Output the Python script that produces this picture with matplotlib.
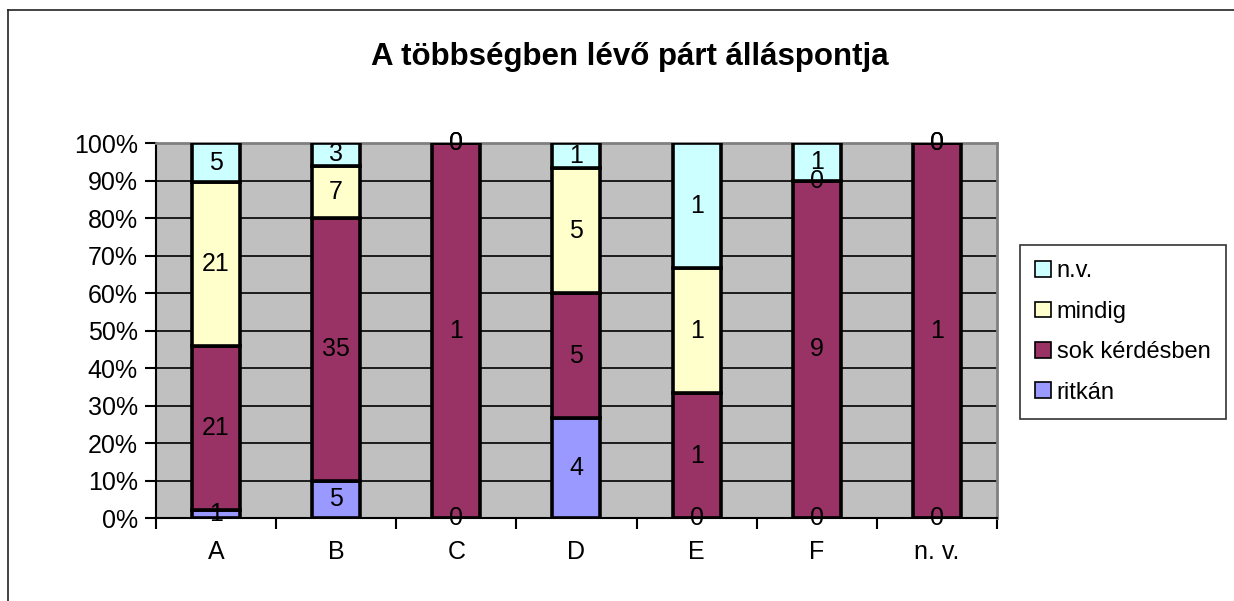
import numpy as np
import matplotlib
matplotlib.use("Agg")
import matplotlib.pyplot as plt
from matplotlib.lines import Line2D

plt.rcParams["font.family"] = ["Liberation Sans", "DejaVu Sans"]

# -------------------------------
# Data (counts per category)
# -------------------------------
categories = ["A", "B", "C", "D", "E", "F", "n. v."]
series_names = ["ritkán", "sok kérdésben", "mindig", "n.v."]
ritkan = [1, 5, 0, 4, 0, 0, 0]
sok_kerdesben = [21, 35, 1, 5, 1, 9, 1]
mindig = [21, 7, 0, 5, 1, 0, 0]
nv = [5, 3, 0, 1, 1, 1, 0]
colors = ["#9999FF", "#993366", "#FFFFCC", "#CCFFFF"]

title = "A többségben lévő párt álláspontja"

series = [ritkan, sok_kerdesben, mindig, nv]
counts = np.array(series, dtype=float)
totals = counts.sum(axis=0)
shares = counts / totals * 100

fig = plt.figure(figsize=(12.34, 6.01), dpi=100)
ax = fig.add_axes([0.1264, 0.138, 0.6815, 0.624])
ax.set_facecolor("#C0C0C0")

x = np.arange(len(categories))
bottom = np.zeros(len(categories))
handles = []
for name, vals, pct, col in zip(series_names, series, shares, colors):
    bars = ax.bar(x, pct, width=0.4, bottom=bottom, color=col,
                  edgecolor="black", linewidth=2.6, label=name, zorder=3)
    handles.append(bars)
    for xi, v, p, b in zip(x, vals, pct, bottom):
        ax.text(xi, b + p / 2, f"{v}", ha="center", va="center",
                fontsize=18, color="black", zorder=5)
    bottom += pct

ax.set_xlim(-0.5, len(categories) - 0.5)
ax.set_ylim(0, 100)
ax.set_yticks(np.arange(0, 101, 10))
ax.set_yticklabels([f"{t}%" for t in range(0, 101, 10)], fontsize=18)
ax.yaxis.grid(True, color="black", linewidth=1.2, zorder=1)
ax.set_axisbelow(True)

# category labels centred, tick marks between categories
ax.set_xticks(x)
ax.set_xticklabels(categories, fontsize=18)
ax.tick_params(axis="x", length=0, pad=16)
ax.set_xticks(np.arange(-0.5, len(categories)), minor=True)
ax.tick_params(axis="x", which="minor", length=8, width=1.5, direction="out")
ax.tick_params(axis="y", length=8, width=1.5, direction="out", pad=5)

for side in ["top", "right"]:
    ax.spines[side].set_color("#808080")
    ax.spines[side].set_linewidth(2)
for side in ["left", "bottom"]:
    ax.spines[side].set_color("black")
    ax.spines[side].set_linewidth(1.5)

fig.text(0.51, 0.905, title, ha="center", va="center",
         fontsize=22.5, fontweight="bold")

leg = fig.legend(handles[::-1], series_names[::-1], loc="center left",
                 bbox_to_anchor=(0.8266, 0.4476), fontsize=17,
                 frameon=True, fancybox=False, edgecolor="black",
                 labelspacing=0.78, handlelength=0.65, handleheight=0.65,
                 handletextpad=0.25, borderpad=0.65, borderaxespad=0)
leg.get_frame().set_linewidth(1.2)
for h in leg.legend_handles:
    h.set_linewidth(1.2)

# outer chart frame (top and left edges visible)
fig.add_artist(Line2D([8 / 1234, 1], [591 / 601, 591 / 601], color="#222222", linewidth=1.2))
fig.add_artist(Line2D([8 / 1234, 8 / 1234], [0, 591 / 601], color="#222222", linewidth=1.2))

fig.savefig("out.png", dpi=100)
